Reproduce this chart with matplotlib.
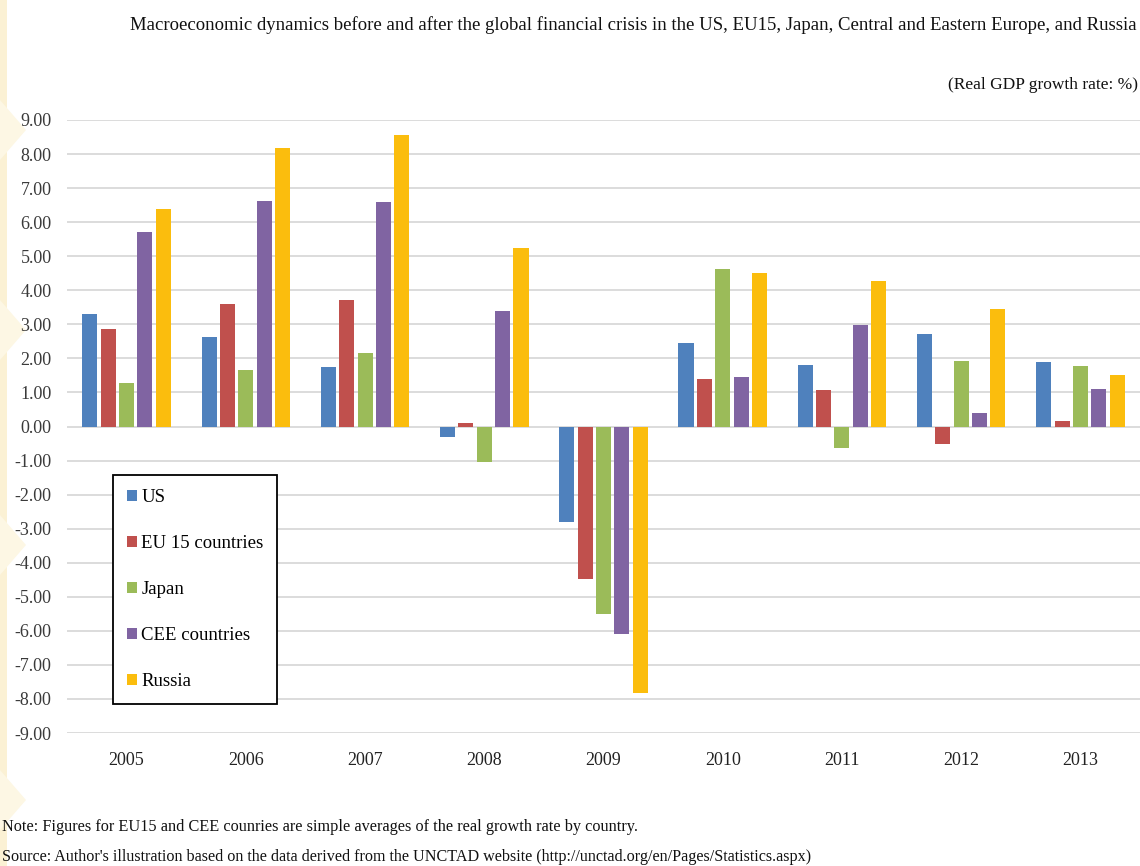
import matplotlib
matplotlib.use("Agg")
import matplotlib.pyplot as plt
from matplotlib.patches import Rectangle, Polygon
import numpy as np

# Real GDP growth rate (%), 2005-2013
years = ["2005", "2006", "2007", "2008", "2009", "2010", "2011", "2012", "2013"]
us = [3.29, 2.62, 1.74, -0.30, -2.79, 2.46, 1.80, 2.73, 1.88]
eu15 = [2.87, 3.59, 3.72, 0.10, -4.47, 1.39, 1.08, -0.51, 0.16]
japan = [1.27, 1.67, 2.17, -1.05, -5.52, 4.63, -0.62, 1.93, 1.77]
cee = [5.70, 6.63, 6.59, 3.40, -6.10, 1.46, 2.98, 0.39, 1.10]
russia = [6.38, 8.17, 8.56, 5.25, -7.84, 4.51, 4.28, 3.44, 1.51]

series = [
    ("US", us, "#4f81bd"),
    ("EU 15 countries", eu15, "#c0504d"),
    ("Japan", japan, "#9bbb59"),
    ("CEE countries", cee, "#8064a2"),
    ("Russia", russia, "#fbbd0d"),
]

plt.rcParams["font.family"] = ["Liberation Serif", "DejaVu Serif"]
plt.rcParams["axes.unicode_minus"] = False

fig = plt.figure(figsize=(11.4, 8.66), dpi=100)

# pale slide decoration along the left edge
fig.patches.append(Rectangle((0, 0), 7 / 1140, 1, transform=fig.transFigure,
                             facecolor="#fbf1d4", edgecolor="none", zorder=-5))
for yc in [130, 330, 545, 800]:
    tri = Polygon([(0, 1 - (yc - 30) / 866), (26 / 1140, 1 - yc / 866),
                   (0, 1 - (yc + 30) / 866)], closed=True,
                  transform=fig.transFigure, facecolor="#fdf7e4",
                  edgecolor="none", zorder=-5)
    fig.patches.append(tri)

ax = fig.add_axes([67 / 1140, 1 - 733 / 866, 1 - 67 / 1140, (733 - 120) / 866])

x = np.arange(len(years))
slot = 0.154
width = 0.126
for i, (name, vals, col) in enumerate(series):
    ax.bar(x + (i - 2) * slot, vals, width, color=col, label=name, zorder=3)

ax.set_ylim(-9, 9)
ax.set_xlim(-0.5, len(years) - 0.5)
ax.set_yticks(np.arange(-9, 10, 1))
ax.set_yticklabels([f"{v:.2f}" for v in np.arange(-9, 10, 1)])
ax.set_xticks(x)
ax.set_xticklabels(years)
ax.tick_params(axis="y", length=0, pad=11, labelsize=13, labelcolor="#3a3a3a")
ax.tick_params(axis="x", length=0, pad=14, labelsize=13, labelcolor="#222222")
ax.grid(axis="y", color="#d9d9d9", linewidth=1.3, zorder=0)
for s in ax.spines.values():
    s.set_visible(False)
ax.patch.set_alpha(0)

leg = ax.legend(loc="upper left", bbox_to_anchor=(113 / 1140, 1 - 475 / 866),
                bbox_transform=fig.transFigure, borderaxespad=0,
                fancybox=False, framealpha=1, edgecolor="black",
                fontsize=13.5, handlelength=0.55, handleheight=0.55,
                handletextpad=0.2, labelspacing=1.55, borderpad=0.75)
leg.get_frame().set_linewidth(1.3)

fig.text(130 / 1140, 1 - 25 / 866,
         "Macroeconomic dynamics before and after the global financial crisis "
         "in the US, EU15, Japan, Central and Eastern Europe, and Russia",
         ha="left", va="center", fontsize=13.5, color="#111111")
fig.text(0.998, 1 - 85 / 866, "(Real GDP growth rate: %)",
         ha="right", va="center", fontsize=12.5, color="#111111")
fig.text(0.002, 1 - 827 / 866,
         "Note: Figures for EU15 and CEE counries are simple averages of the "
         "real growth rate by country.",
         ha="left", va="center", fontsize=11.7, color="#111111")
fig.text(0.002, 1 - 857 / 866,
         "Source: Author's illustration based on the data derived from the "
         "UNCTAD website (http://unctad.org/en/Pages/Statistics.aspx)",
         ha="left", va="center", fontsize=11.6, color="#111111")

fig.savefig("out.png", dpi=100)
